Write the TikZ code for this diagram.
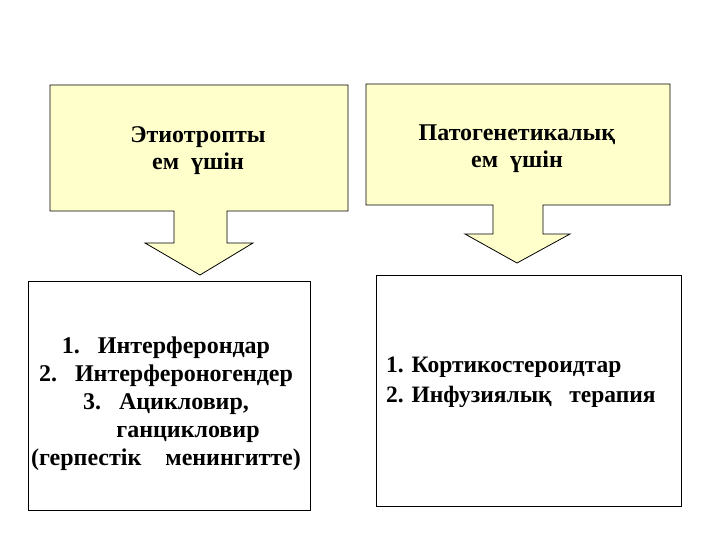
\documentclass[tikz,border=0pt]{standalone}
\usepackage{fontspec}
\setmainfont{Liberation Serif}
\definecolor{paleyellow}{HTML}{FFFFCC}
\tikzset{
  callout/.style={draw=black, line width=0.8pt, fill=paleyellow},
  listbox/.style={draw=black, line width=0.8pt, fill=white},
  headtext/.style={font=\bfseries\fontsize{24}{27}\selectfont, align=center, inner sep=0pt},
  listtext/.style={font=\bfseries\fontsize{24}{28}\selectfont, align=center, inner sep=0pt},
}
\begin{document}
\begin{tikzpicture}[x=1pt,y=-1pt]
\useasboundingbox (0,0) rectangle (720,540);
\fill[white] (0,0) rectangle (720,540);
% left callout
\coordinate (ltip) at (200,275);
\draw[callout] (50,85) -- (348,85) -- (348,211) -- (227,211) -- (227,243) -- (253,243)
  -- (ltip) -- (145,243) -- (174,243) -- (174,211) -- (50,211) -- cycle;
\node[headtext] (lhead) at (198,151) {Этиотропты\\ ем\ \ үшін};
% right callout
\coordinate (rtip) at (517,263);
\draw[callout] (366,84) -- (670,84) -- (670,205) -- (543,205) -- (543,234) -- (570,234)
  -- (rtip) -- (465,234) -- (493,234) -- (493,205) -- (366,205) -- cycle;
\node[headtext] (rhead) at (517,149) {Патогенетикалық\\ ем\ \ үшін};
% lower boxes
\draw[listbox] (28,281) rectangle (310,510);
\node[listtext] (llist) at (166,404) {1.\hspace{18pt}Интерферондар\\ 2.\hspace{18pt}Интерфероногендер\\ 3.\hspace{18pt}Ацикловир,\\ \hspace*{44pt}ганцикловир\\ (герпестік\hspace{24pt}менингитте)};
\draw[listbox] (376,275) rectangle (681,506);
\node[listtext, align=left, anchor=west, font=\bfseries\fontsize{23.5}{30}\selectfont] (rlist) at (386,382) {1. Кортикостероидтар\\ 2. Инфузиялық\ \ \ терапия};
\end{tikzpicture}
\end{document}
